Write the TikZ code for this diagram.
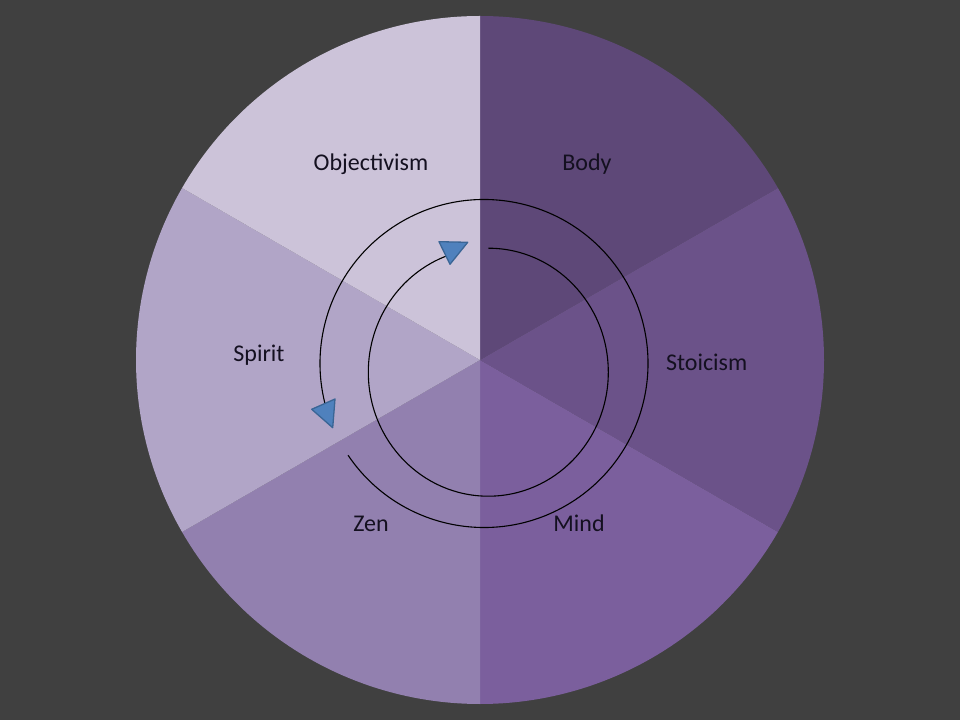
\documentclass[tikz,border=0pt]{standalone}
\usepackage{fontspec}
\setmainfont{Carlito}
\definecolor{bgc}{HTML}{404040}
\definecolor{cbody}{HTML}{5E4878}
\definecolor{cstoic}{HTML}{6B5289}
\definecolor{cmind}{HTML}{7B5F9D}
\definecolor{czen}{HTML}{9280AF}
\definecolor{cspirit}{HTML}{B1A5C7}
\definecolor{cobj}{HTML}{CCC3D9}
\definecolor{tipfill}{HTML}{4F81BD}
\definecolor{tipline}{HTML}{3A6595}
\definecolor{txt}{HTML}{141020}
\begin{document}
\begin{tikzpicture}[x=1pt,y=1pt,
  lbl/.style={anchor=base, inner sep=0pt, text=txt, font=\fontsize{24}{28}\selectfont},
  cycline/.style={draw=black, line width=1.1pt},
  tiphead/.style={fill=tipfill, draw=tipline, line width=1.3pt, line join=round}]
\useasboundingbox (0,0) rectangle (960,720);
\fill[bgc] (0,0) rectangle (960,720);
\coordinate (C) at (480,360);
\coordinate (Co) at (484,356.5);
\coordinate (Ci) at (488.3,347.8);
% sectors
\fill[cbody]   (C) -- ++(90:344pt)   arc[start angle=90,   end angle=30,   radius=344pt] -- cycle;
\fill[cstoic]  (C) -- ++(30:344pt)   arc[start angle=30,   end angle=-30,  radius=344pt] -- cycle;
\fill[cmind]   (C) -- ++(-30:344pt)  arc[start angle=-30,  end angle=-90,  radius=344pt] -- cycle;
\fill[czen]    (C) -- ++(-90:344pt)  arc[start angle=-90,  end angle=-150, radius=344pt] -- cycle;
\fill[cspirit] (C) -- ++(-150:344pt) arc[start angle=-150, end angle=-210, radius=344pt] -- cycle;
\fill[cobj]    (C) -- ++(150:344pt)  arc[start angle=150,  end angle=90,   radius=344pt] -- cycle;
% labels
\node[lbl] (obj)    at (371,549.3) {Objectivism};
\node[lbl] (body)   at (587,549.3) {Body};
\node[lbl] (stoic)  at (706.7,349) {Stoicism};
\node[lbl] (spirit) at (259,358.3) {Spirit};
\node[lbl] (zen)    at (371,188.3) {Zen};
\node[lbl] (mind)   at (579,188.3) {Mind};
% outer cycle arc
\draw[cycline] (Co) ++(-146:164pt) arc[start angle=-146, end angle=194, radius=164pt];
% inner cycle arc
\draw[cycline] (Ci) ++(0,124pt) arc[start angle=90, end angle=-250, x radius=120pt, y radius=124pt];
% arrowheads
\filldraw[tiphead] (311.7,310.7) -- (332.7,292.3) -- (335,321) -- cycle;
\filldraw[tiphead] (439,478.3) -- (467.7,477.7) -- (450,455.7) -- cycle;
\end{tikzpicture}
\end{document}
